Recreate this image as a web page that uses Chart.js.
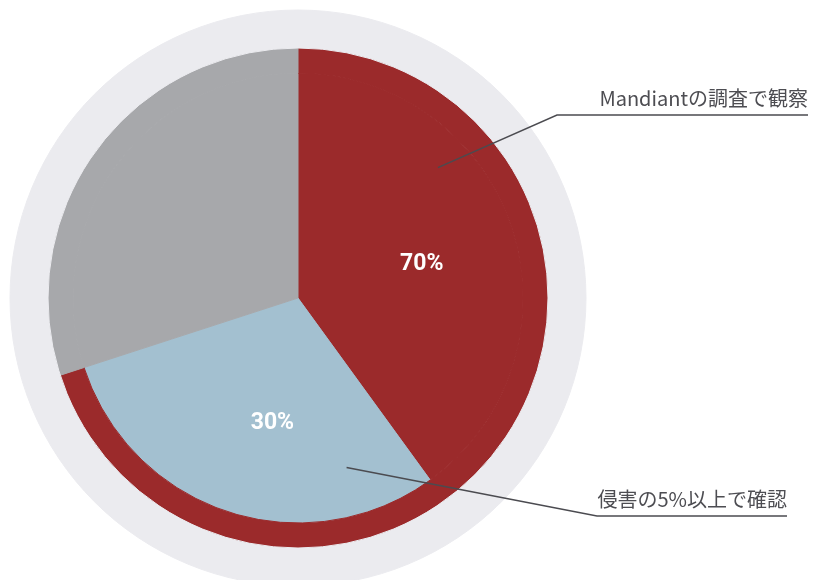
<!DOCTYPE html>
<html lang="ja">
<head>
<meta charset="utf-8">
<script src="https://cdn.jsdelivr.net/npm/chart.js@4/dist/chart.umd.min.js"></script>
<style>
  html, body { margin: 0; background: #fff; }
  canvas { display: block; }
</style>
</head>
<body>
<canvas id="grafico" width="817" height="580"></canvas>
<script>
// Dados do gráfico
const rotulos = ['Mandiantの調査で観察', '侵害の5%以上で確認'];
const valores = [70, 30];

// Anéis: fundo claro, anel vermelho/cinza e o miolo com a fatia azul
const anelFundo = [100];
const anelMedio = [valores[0], 100 - valores[0]];
const anelMiolo = [valores[0] - valores[1], valores[1], 100 - valores[0]];

const cores = {
  vermelho: '#9b2a2b',
  cinza: '#a7a8ab',
  azul: '#a3c0d0',
  fundo: '#ebebef',
  linha: '#4b4b50',
};

/**
 * Textos de porcentagem e linhas de chamada.
 */
const pluginRotulos = {
  id: 'rotulos',
  afterDatasetsDraw(chart) {
    const { ctx } = chart;
    const miolo = chart.getDatasetMeta(2);
    const medio = chart.getDatasetMeta(1);

    // Porcentagens dentro das fatias do miolo (posição ao longo do arco)
    const posicaoNoArco = [0.52, 0.44];
    ctx.save();
    ctx.fillStyle = '#ffffff';
    ctx.font = '700 23px Roboto, "DejaVu Sans", sans-serif';
    ctx.textAlign = 'center';
    ctx.textBaseline = 'middle';
    [0, 1].forEach((i) => {
      const arco = miolo.data[i];
      const ang = arco.startAngle + (arco.endAngle - arco.startAngle) * posicaoNoArco[i];
      const r = arco.outerRadius * 0.57;
      ctx.fillText(`${valores[i]}%`, arco.x + Math.cos(ang) * r, arco.y + Math.sin(ang) * r);
    });
    ctx.restore();

    // Linhas de chamada com o texto acima do trecho horizontal
    const centro = medio.data[0];
    const raioPizza = centro.outerRadius;
    const chamadas = [
      { texto: rotulos[0], angulo: 47, raio: 0.765, cotovelo: [557, 115], fimX: 808 },
      { texto: rotulos[1], angulo: 164, raio: 0.705, cotovelo: [597, 516], fimX: 787 },
    ];

    ctx.save();
    ctx.strokeStyle = cores.linha;
    ctx.lineWidth = 1.5;
    ctx.fillStyle = '#4d4d52';
    ctx.font = '400 20px "Noto Sans CJK JP", "Noto Sans", sans-serif';
    ctx.textAlign = 'right';
    ctx.textBaseline = 'alphabetic';
    chamadas.forEach((c) => {
      const a = (c.angulo * Math.PI) / 180;
      const x0 = centro.x + Math.sin(a) * raioPizza * c.raio;
      const y0 = centro.y - Math.cos(a) * raioPizza * c.raio;
      ctx.beginPath();
      ctx.moveTo(x0, y0);
      ctx.lineTo(c.cotovelo[0], c.cotovelo[1]);
      ctx.lineTo(c.fimX, c.cotovelo[1]);
      ctx.stroke();
      ctx.fillText(c.texto, c.fimX, c.cotovelo[1] - 9);
    });
    ctx.restore();
  },
};

const ctx = document.getElementById('grafico').getContext('2d');

new Chart(ctx, {
  type: 'pie',
  data: {
    datasets: [
      {
        data: anelFundo,
        backgroundColor: [cores.fundo],
        borderColor: [cores.fundo],
        weight: 38,
      },
      {
        data: anelMedio,
        backgroundColor: [cores.vermelho, cores.cinza],
        borderColor: [cores.vermelho, cores.cinza],
        weight: 25,
      },
      {
        data: anelMiolo,
        backgroundColor: [cores.vermelho, cores.azul, cores.cinza],
        borderColor: [cores.vermelho, cores.azul, cores.cinza],
        weight: 225,
      },
    ],
  },
  options: {
    responsive: false,
    animation: false,
    events: [],
    radius: 288,
    borderWidth: 1,
    layout: {
      padding: { left: 10, right: 231, top: 16, bottom: 0 },
    },
    plugins: {
      legend: { display: false },
      tooltip: { enabled: false },
    },
  },
  plugins: [pluginRotulos],
});
</script>
</body>
</html>
